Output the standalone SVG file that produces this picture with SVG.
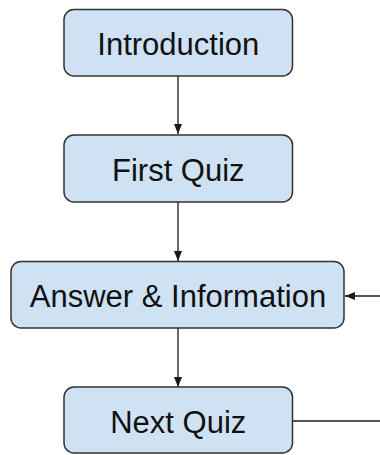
<svg xmlns="http://www.w3.org/2000/svg" width="380" height="455" viewBox="0 0 380 455">
<style>
.box{fill:#cfe2f3;stroke:#333333;stroke-width:1.5}
.lbl{font-family:"Liberation Sans",Arial,sans-serif;font-size:31px;fill:#111111;text-anchor:middle}
.conn{stroke:#1a1a1a;stroke-width:1.3;fill:none}
</style>
<defs>
<marker id="ah" markerUnits="userSpaceOnUse" markerWidth="10" markerHeight="8" refX="10" refY="4" orient="auto">
<path d="M0,0 L10,4 L0,8 Z" fill="#1a1a1a"/>
</marker>
</defs>
<rect width="380" height="455" fill="#ffffff"/>
<g id="connectors">
<line class="conn" x1="178" y1="76" x2="178" y2="134" marker-end="url(#ah)"/>
<line class="conn" x1="178" y1="202" x2="178" y2="261" marker-end="url(#ah)"/>
<line class="conn" x1="178" y1="328" x2="178" y2="387" marker-end="url(#ah)"/>
<line class="conn" x1="380" y1="296" x2="345" y2="296" marker-end="url(#ah)"/>
<line class="conn" x1="293" y1="421" x2="380" y2="421"/>
</g>
<g id="introduction">
<rect class="box" x="64" y="9.5" width="228.5" height="66.5" rx="10"/>
<text class="lbl" x="178.3" y="54.5">Introduction</text>
</g>
<g id="first-quiz">
<rect class="box" x="64" y="135" width="228.5" height="67" rx="10"/>
<text class="lbl" x="178.3" y="180.5">First Quiz</text>
</g>
<g id="answer-information">
<rect class="box" x="11" y="261.5" width="333" height="66.5" rx="10"/>
<text class="lbl" x="178" y="306.5">Answer &amp; Information</text>
</g>
<g id="next-quiz">
<rect class="box" x="64" y="387" width="228.5" height="66" rx="10"/>
<text class="lbl" x="178.3" y="432.5">Next Quiz</text>
</g>
</svg>
